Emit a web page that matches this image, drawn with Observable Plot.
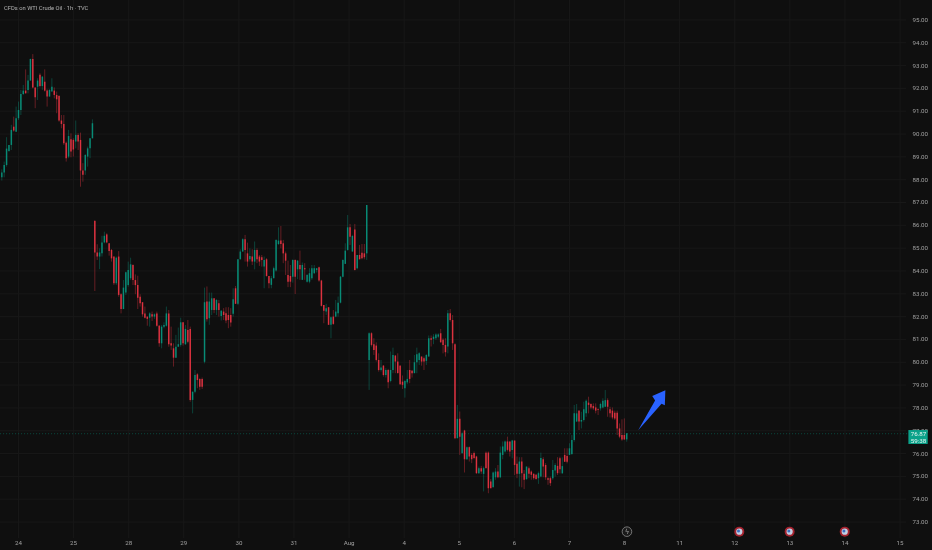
<!DOCTYPE html>
<html>
<head>
<meta charset="utf-8">
<style>html,body{margin:0;padding:0;background:#0f0f0f}svg{display:block}</style>
<script src="https://cdn.jsdelivr.net/npm/d3@7"></script>
<script src="https://cdn.jsdelivr.net/npm/@observablehq/plot@0.6"></script>
</head>
<body>
<div id="chart"></div>
<script>
// rows: open, high, low, close
const julySessionA = [[88.08,88.43,87.94,88.29],[88.29,88.77,88.08,88.62],[88.62,89.84,88.55,89.34],[89.24,89.5,89.2,89.5],[89.5,90.38,89.28,90.16],[90.3,90.74,90.08,90.13],[90.08,91.18,90.08,90.67],[90.67,91.4,90.59,91.03],[91.03,91.91,90.81,91.73],[91.73,92.13,91.69,91.88],[91.88,92.81,91.76,91.76],[91.91,92.57,91.76,92.32],[92.32,93.27,92.32,93.27],[93.27,93.48,91.98,92.02],[92.02,92.02,91.11,91.59],[92.05,92.42,91.47,92.32],[92.57,92.64,92.02,92.08],[92.08,92.52,91.91,92.49],[92.27,92.81,91.84,91.88],[91.88,91.94,91.18,91.62],[91.62,91.94,91.62,91.91],[91.84,92.42,91.84,92.05],[91.88,92.02,91.54,91.69],[91.69,91.84,90.89,91.5],[91.65,91.65,90.52,90.57],[90.57,90.81,90.23,90.42],[90.42,90.81,89.5,89.57],[89.6,89.65,88.77,88.92],[88.99,90.16,88.92,89.89],[89.75,90.01,88.96,89.21],[89.72,89.79,88.99,89.3],[89.65,90.57,89.35,89.94],[89.94,90.01,89.28,89.65],[89.72,90.04,87.67,88.38],[88.38,88.7,87.89,88.19],[88.38,89.1,88.19,89.06],[88.99,89.43,88.55,89.35],[89.35,89.79,88.92,89.79],[89.79,90.62,89.79,90.45]];
const julySessionB = [[86.17,86.21,83.1,84.79],[84.79,85.15,84.46,84.61],[84.61,84.97,84.06,84.79],[84.75,85.52,84.61,85.23],[85.23,85.7,85.19,85.52],[85.58,85.63,85.19,85.23],[85.19,85.19,84.65,84.85],[84.9,84.94,84.39,84.53],[84.61,84.61,83.36,83.44],[83.44,84.61,83.36,84.56],[84.61,84.85,82.85,82.93],[82.96,83,82.12,82.31],[82.31,83.58,82.31,83.25],[83.04,83.95,82.93,83.92],[83.36,84.39,83.29,84.02],[83.66,84.56,83.58,84.27],[84.24,84.27,83.36,83.58],[83.58,83.83,82.96,83.36],[83.36,83.77,82.31,82.81],[82.85,82.96,82.42,82.56],[82.61,82.61,81.98,82.08],[82.12,82.42,81.9,81.93],[81.98,81.98,81.58,81.88],[81.93,82.17,81.54,82.12],[82.08,82.2,81.79,81.98],[81.98,82.12,81.88,82.08],[82.12,82.2,81.54,81.58],[81.58,81.61,80.66,80.81],[80.81,81.61,80.59,81.54],[81.54,81.73,81.47,81.61],[81.58,82.42,81.54,82.12],[82.12,82.27,80.66,80.77],[80.81,81.54,80.52,80.71],[80.59,80.81,79.79,80.18],[80.18,81.18,80.18,80.66],[80.66,81.5,80.66,80.77],[80.74,81.93,80.66,81.73],[81.73,81.73,80.71,80.81],[80.77,81.61,80.74,81.44],[81.39,81.83,80.81,80.88],[81.44,81.54,78.25,78.33],[78.33,78.69,77.74,78.69],[78.69,79.64,78.62,79.42],[79.45,79.5,78.84,79.2],[79.25,79.28,78.77,78.91],[79.25,79.31,78.81,78.91],[80,83.25,79.93,82.61]];
const julySessionC = [[82.64,83.3,81.76,81.86],[81.91,83.03,81.62,82.64],[82.27,83.03,82.05,82.78],[82.78,82.78,82.13,82.27],[82.27,82.74,82.05,82.71],[82.56,82.71,81.98,82.27],[82.01,82.27,81.81,82.24],[82.2,82.35,81.83,82.05],[82.13,82.39,81.69,81.81],[82.05,82.39,81.47,81.83],[82.05,82.35,81.54,81.72],[82.1,83.22,81.98,82.74],[83.22,83.32,82.54,82.54],[82.54,84.49,82.49,84.49],[84.49,84.93,84.49,84.83],[84.83,85.41,84.83,85.37],[85.37,85.56,84.39,84.9],[84.75,85.22,84.17,84.39],[84.49,84.97,84.39,84.64],[84.61,84.93,84.24,84.39],[84.39,85.27,84.05,84.9],[84.9,84.97,84.32,84.49],[84.61,84.68,84.2,84.39],[84.58,84.68,84.17,84.46],[84.17,84.61,83.22,84.46],[84.49,84.54,83.73,83.76],[83.76,83.76,83.22,83.44],[83.37,83.76,83.22,83.66],[83.66,84.17,83.66,84.1],[84,85.37,83.95,85.34],[85.16,85.89,85.12,85.31],[85.31,85.95,84.97,85.16],[85.19,85.34,84.32,84.75],[84.75,84.83,83.8,84.43],[83.8,84.43,83.27,83.51],[83.76,84.24,83.27,83.51],[83.73,84.49,83.47,84.46],[84.46,84.49,82.97,83.73],[84.05,84.46,83.62,84.43],[84.24,84.87,83.59,84.05],[83.59,84.35,83.59,84.24],[84.1,84.32,83.59,84.05],[83.51,83.85,83.47,83.8],[83.51,84.1,83.44,83.88],[83.66,84.24,83.59,84.1],[83.88,84.24,83.85,84.1],[84.02,84.1,83.91,84.1],[84.14,84.17,83.51,83.56],[83.56,83.59,82.42,82.45],[82.49,82.49,81.69,82.24],[82.2,82.54,82.05,82.35],[82.39,82.39,81.62,81.62],[81.62,81.98,81.03,81.95],[81.98,82.27,81.62,81.66],[81.98,82.71,81.95,82.2],[82.13,82.86,81.98,82.59],[82.59,83.76,82.56,83.73],[83.73,84.49,83.7,84.46],[84.29,85.19,84.29,84.87],[84.9,86.43,84.87,85.89],[85.89,86.04,85.12,85.48],[84.83,85.56,84.83,85.51],[85.8,86.04,84,84.02],[84.1,84.68,84.05,84.68],[84.68,85.12,84.49,84.49],[84.78,85.16,84.49,84.54],[84.75,85.16,84.49,84.58],[84.75,86.87,84.46,86.87]];
const augSessionA = [[80.08,81.29,78.77,81.25],[81.25,81.29,80.67,80.74],[80.77,81.03,80.3,80.52],[80.71,80.85,80.01,80.08],[80.08,80.37,79.57,79.64],[79.64,80.08,79.57,79.75],[79.83,79.86,79.35,79.42],[79.42,79.72,79.31,79.64],[79.64,79.69,78.84,79.1],[79.16,80.45,79.1,79.64],[79.64,80.62,79.5,80.3],[80.27,80.3,79.5,80.01],[80.01,80.37,79.5,79.5],[79.83,79.86,78.99,79.02],[79.13,79.4,78.81,78.99],[78.84,79.2,78.43,79.16],[79.1,79.64,79.02,79.25],[79.64,80.08,79.06,79.25],[79.61,79.64,79.31,79.5],[79.5,80.3,79.5,79.98],[79.98,80.62,79.5,80.33],[80.08,80.42,79.86,80.37],[80.23,80.23,79.83,80.01],[80.15,80.23,79.64,80.01],[80.04,80.33,79.86,80.3],[80.23,81.15,80.23,81.03],[81.03,81.15,80.67,80.96],[81,81.21,80.77,81.1],[81.03,81.25,80.96,81.2],[81.1,81.25,81.03,81.2],[81.25,81.44,80.85,80.85],[80.96,81.03,80.37,80.74],[80.74,81.03,80.23,80.42],[80.67,82.27,80.37,82.13],[82.13,82.31,81.76,81.83],[81.83,82.05,80.52,80.81],[80.77,80.81,76.61,76.65]];
const augSessionB = [[76.65,78.11,76.65,77.5],[77.5,77.82,75.92,76.72],[75.99,76.94,75.99,76.87],[76.99,77.02,75.15,75.73],[75.73,76.29,75.7,76.26],[76.26,76.29,75.63,75.85],[75.92,76,75.56,75.73],[76,76.07,75.73,75.78],[75.85,75.88,75.09,75.12],[75.12,75.41,75.09,75.34],[75.34,75.44,75.09,75.19],[75.09,75.41,74.32,75.34],[76.02,76.07,75.34,75.34],[76.02,76.07,74.24,74.46],[74.75,74.86,74.46,74.46],[74.5,75.19,74.5,75.15],[74.94,75.34,74.83,75.19],[75.19,75.48,74.9,74.94],[74.94,76.29,74.9,76.02],[75.92,76.51,75.73,76.29],[76.07,76.55,76.02,76.51],[76.51,76.72,76.07,76.14],[76.51,76.51,75.85,76.07],[76.14,76.58,75.77,76.55],[76.55,76.55,75.04,75.48],[75.53,75.85,74.9,75.09],[75.09,75.82,74.53,75.63],[75.63,75.82,74.5,75.12],[75.09,75.26,74.42,74.83],[74.86,75.41,74.83,75.41],[75.34,75.41,74.9,75.09],[75.19,75.24,74.83,75.05],[75.09,75.12,74.83,74.9],[75.05,75.09,74.83,74.86],[74.9,75.19,74.65,75.12],[74.97,76.02,74.94,75.78],[75.73,75.82,74.94,75.41],[75.48,75.56,74.83,74.94],[74.9,74.94,74.61,74.83],[74.9,74.97,74.56,74.68],[74.9,75.7,74.83,75.26],[75.24,75.56,74.97,75.48],[75.44,75.82,75.04,75.12]];
const augSessionC = [[75.77,75.84,75.11,75.29],[75.11,75.81,75.11,75.43],[75.92,76.21,75.62,75.62],[75.87,76.21,75.55,75.62],[75.92,76.43,75.92,76.21],[75.96,76.79,75.92,76.57],[76.57,78.11,76.5,77.74],[77.38,78.15,77.38,77.74],[77.86,77.89,77.01,77.38],[77.38,77.81,77.08,77.45],[77.45,78.25,77.38,77.92],[77.74,78.35,77.59,78.29],[78.21,78.47,77.74,78.11],[78.15,78.18,77.92,78],[78.06,78.18,77.89,77.96],[78,78.18,77.74,77.86],[77.92,77.96,77.67,77.89],[77.96,78.21,77.86,78.15],[78,78.4,77.96,78.29],[78.03,78.76,78.03,78.32],[78.32,78.4,77.59,78.03],[77.92,78.03,77.56,77.74],[77.86,78,77.48,77.56],[77.77,77.86,77.45,77.52],[77.77,77.86,76.79,77.08],[77.08,77.3,76.65,76.72],[76.79,77.48,76.54,76.6],[76.79,77.52,76.57,76.6],[76.6,76.86,76.5,76.87]];

const dayLabels = ["24","25","28","29","30","31","Aug","4","5","6","7","8","11","12","13","14","15"];
const dayTicks = [7,30.1,53.2,76.3,99.4,122.5,145.6,168.7,191.8,214.9,238,261.1,284.2,307.3,330.4,353.5,376.6];
const priceTicks = [73,74,75,76,77,78,79,80,81,82,83,84,85,86,87,88,89,90,91,92,93,94,95];
const lastPrice = 76.87;
const countdown = "59:38";
const arrowX = [266.8,273.9,272.7,278.2,277.98,276.6];
const arrowY = [77.02,78.33,78.52,78.77,78.12,78.18];
const flagEvents = [309.2,330.3,353.4];
const boltEvent = [262.1];
const eventRow = 72.58;

const bars = [...julySessionA,...julySessionB,...julySessionC,...augSessionA,...augSessionB,...augSessionC]
  .map(([o,h,l,c],i)=>({i,o,h,l,c,col:c>=o?"#089981":"#f23645"}));

const font = "Roboto, sans-serif";
const plot = Plot.plot({
  width:932, height:550,
  marginLeft:0, marginRight:26, marginTop:0, marginBottom:12,
  x:{type:"linear",domain:[-0.545,379.3]},
  y:{type:"linear",domain:[72.28,95.85]},
  style:{background:"#0f0f0f",color:"#a0a0a0",fontFamily:font,fontSize:"6.2px",overflow:"visible",filter:"blur(0.3px)"},
  marks:[
    Plot.gridX(dayTicks,{stroke:"#181818",strokeOpacity:1}),
    Plot.gridY(priceTicks,{stroke:"#181818",strokeOpacity:1}),
    Plot.axisX(dayTicks,{anchor:"bottom",tickSize:0,tickPadding:2.5,label:null,fill:"#a0a0a0",
      tickFormat:d=>dayLabels[dayTicks.indexOf(d)]}),
    Plot.axisY(priceTicks,{anchor:"right",tickSize:0,tickPadding:6,label:null,fill:"#a0a0a0",
      tickFormat:d=>d.toFixed(2)}),
    Plot.ruleY([lastPrice],{x1:-0.5,x2:380.3,stroke:"#0a5a4e",strokeDasharray:"1,2",strokeWidth:0.8}),
    Plot.ruleX(bars,{x:"i",y1:"l",y2:"h",stroke:"col",strokeWidth:1,strokeOpacity:0.38}),
    Plot.ruleX(bars,{x:"i",y1:"o",y2:"c",stroke:"col",strokeWidth:1.5,strokeOpacity:0.85}),
    Plot.line(arrowX.map((x,k)=>({x,y:arrowY[k]})),{x:"x",y:"y",fill:"#2962ff",stroke:"none"}),
    Plot.rect([0],{x1:380.3,x2:388.4,y1:77.01,y2:76.4,fill:"#0ba28a"}),
    Plot.text([lastPrice.toFixed(2)],{x:384.3,y:76.86,text:d=>d,fill:"#e9f5f2",fontSize:6.2}),
    Plot.text([countdown],{x:384.3,y:76.55,text:d=>d,fill:"#e9f5f2",fontSize:6.2}),
    Plot.dot(boltEvent,{x:d=>d,y:()=>eventRow,r:4.8,stroke:"#8c8c8c",fill:"#1a1a1a",strokeWidth:0.8}),
    Plot.text(boltEvent,{x:d=>d,y:()=>eventRow,text:()=>"ϟ",fill:"#a0a0a0",fontSize:7,fontFamily:"DejaVu Sans"}),
    Plot.dot(flagEvents,{x:d=>d,y:()=>eventRow,r:5,fill:"#a4222e"}),
    Plot.dot(flagEvents,{x:d=>d,y:()=>eventRow,r:3.1,fill:"#c3cfe2"}),
    Plot.dot(flagEvents,{x:d=>d,y:()=>eventRow,r:1.5,dx:-0.8,dy:-0.6,fill:"#3d6fc2"}),
    Plot.text(["CFDs on WTI Crude Oil · 1h · TVC"],{frameAnchor:"top-left",dx:3.5,dy:5.5,text:d=>d,textAnchor:"start",fill:"#b4b4b4",fontSize:5.8})
  ]
});
document.getElementById("chart").append(plot);
</script>
</body>
</html>
